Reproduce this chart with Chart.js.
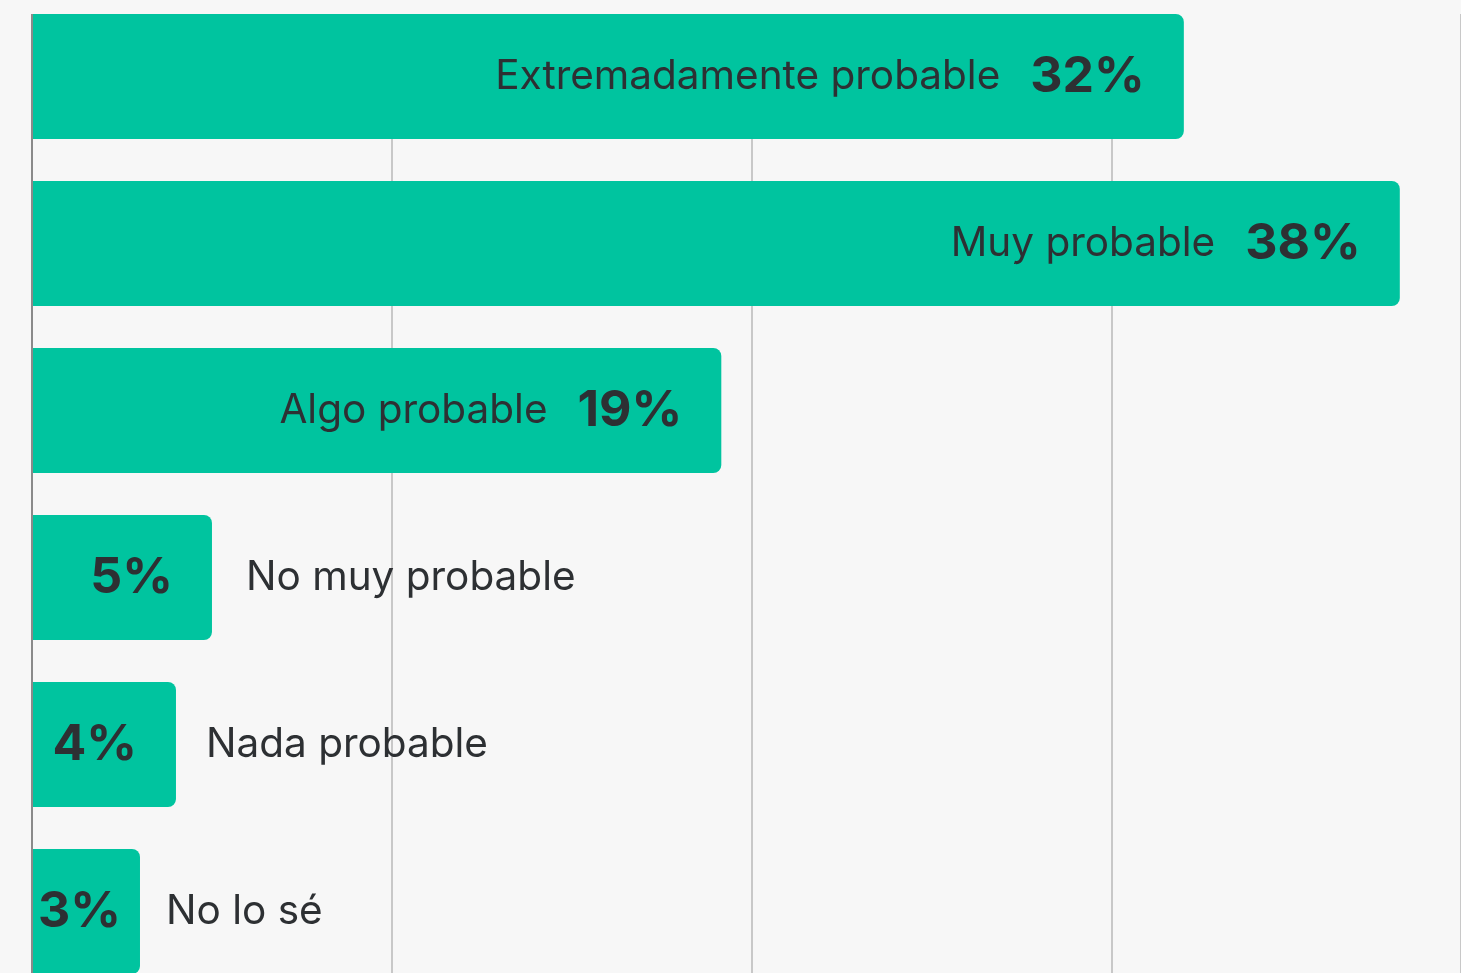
<!DOCTYPE html>
<html>
<head>
<meta charset="utf-8">
<script src="https://cdn.jsdelivr.net/npm/chart.js@4"></script>
<style>
  html, body { margin: 0; padding: 0; background: #f7f7f7; overflow: hidden; }
  #wrap { position: absolute; left: 0; top: -7px; width: 1461px; height: 1002px; }
</style>
</head>
<body>
<div id="wrap"><canvas id="chart"></canvas></div>
<script>
// categories and values
const categories = ["Extremadamente probable", "Muy probable", "Algo probable", "No muy probable", "Nada probable", "No lo sé"];
const values = [32, 38, 19.15, 5, 4, 3];
const valueLabels = ["32%", "38%", "19%", "5%", "4%", "3%"];

const barColor = "#00c49f";
const bgColor = "#f7f7f7";
const textColor = "#2d3033";
const fontName = "Inter, 'Open Sans', sans-serif";

// hide the grid above the first bar (the reference starts its lines under it)
const topMask = {
  id: "topMask",
  beforeDatasetsDraw(chart) {
    const first = chart.getDatasetMeta(0).data[0];
    const top = first.y - first.height / 2;
    const ctx = chart.ctx;
    ctx.save();
    ctx.fillStyle = bgColor;
    ctx.fillRect(0, 0, chart.width, top);
    ctx.restore();
  }
};

// draws the label + percentage inside/next to each bar
const barLabels = {
  id: "barLabels",
  afterDatasetsDraw(chart) {
    const ctx = chart.ctx;
    const meta = chart.getDatasetMeta(0);
    ctx.save();
    ctx.fillStyle = textColor;
    ctx.textBaseline = "alphabetic";
    meta.data.forEach(function (bar, i) {
      const end = bar.x;
      const cy = bar.y;
      ctx.font = "bold 50px " + fontName;
      const pw = ctx.measureText(valueLabels[i]).width;
      let pr = end - 39;
      if (pr - pw < 38) pr = 38 + pw;
      ctx.textAlign = "right";
      ctx.fillText(valueLabels[i], pr, cy + 15);
      ctx.font = "40.5px " + fontName;
      if (values[i] >= 10) {
        ctx.textAlign = "right";
        ctx.fillText(categories[i], pr - pw - 30, cy + 12);
      } else {
        ctx.textAlign = "left";
        ctx.fillText(categories[i], end + 14 + 4 * values[i], cy + 12);
      }
    });
    ctx.restore();
  }
};

new Chart("chart", {
  type: "bar",
  data: {
    labels: categories,
    datasets: [{
      data: values,
      backgroundColor: barColor,
      borderRadius: 8,
      barPercentage: 0.7485,
      categoryPercentage: 1
    }]
  },
  plugins: [topMask, barLabels],
  options: {
    indexAxis: "y",
    responsive: true,
    maintainAspectRatio: false,
    animation: false,
    layout: { padding: { left: 32, right: 0, top: 0, bottom: 0 } },
    plugins: { legend: { display: false }, tooltip: { enabled: false } },
    scales: {
      x: {
        min: 0,
        max: 39.7,
        ticks: { display: false, stepSize: 10 },
        grid: { color: "#c8c8c8", lineWidth: 2, drawTicks: false },
        border: { display: false }
      },
      y: {
        ticks: { display: false },
        grid: { display: false, drawTicks: false },
        border: { color: "#8a8a8a", width: 2 }
      }
    }
  }
});
</script>
</body>
</html>
